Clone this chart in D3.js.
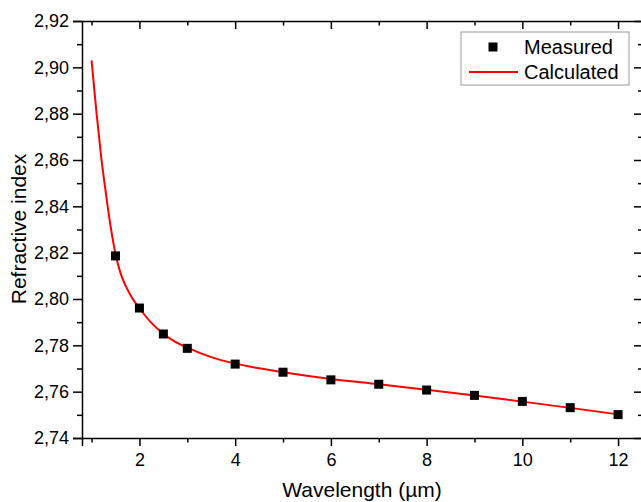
<!DOCTYPE html>
<meta charset="utf-8">
<style>
body { margin: 0; background: #fff; }
svg { font-family: "Liberation Sans", Arial, sans-serif; }
.axis path, .axis line { stroke: #000; stroke-width: 1.5; }
.axis text { font-size: 18px; fill: #000; font-family: "Liberation Sans", Arial, sans-serif; }
.title { font-size: 20px; fill: #000; }
</style>
<svg width="641" height="502"></svg>
<script src="https://d3js.org/d3.v7.min.js"></script>
<script>
// measured points
var measWl = [1.5, 2, 2.5, 3, 4, 5, 6, 7, 8, 9, 10, 11, 12];
var measN = [2.8186, 2.7961, 2.7849, 2.7787, 2.7719, 2.7684, 2.7651, 2.7632, 2.7607, 2.7584, 2.7558, 2.7531, 2.7501];
// calculated curve
var calcWl = [1.0, 1.1, 1.2, 1.3, 1.4, 1.5, 1.6, 1.7, 1.8, 1.9, 2.0, 2.25, 2.5, 2.75, 3.0, 3.5, 4.0, 4.5, 5, 6, 7, 8, 9, 10, 11, 12];
var calcN = [2.903, 2.881, 2.8615, 2.8455, 2.831, 2.8195, 2.8115, 2.8062, 2.8022, 2.7988, 2.796, 2.7897, 2.785, 2.7815, 2.779, 2.7749, 2.7721, 2.7701, 2.7684, 2.7655, 2.7632, 2.7608, 2.7583, 2.7557, 2.753, 2.7502];
// ticks
var xMajor = [2, 4, 6, 8, 10, 12];
var xMinor = [1, 3, 5, 7, 9, 11];
var yMajor = [2.74, 2.76, 2.78, 2.80, 2.82, 2.84, 2.86, 2.88, 2.90, 2.92];
var yMinor = [2.75, 2.77, 2.79, 2.81, 2.83, 2.85, 2.87, 2.89, 2.91];

var svg = d3.select('svg');
var m = { left: 82, right: 642, top: 21, bottom: 438 };

var x = d3.scaleLinear().domain([0.8, 12.5]).range([m.left, m.right]);
var y = d3.scaleLinear().domain([2.74, 2.92]).range([m.bottom, m.top]);
var fmt = function (d) { return d3.format('.2f')(d).replace('.', ','); };

// bottom axis
svg.append('g').attr('class', 'axis')
  .attr('transform', `translate(0, ${m.bottom})`)
  .call(d3.axisBottom(x).tickValues(xMajor).tickSize(8).tickPadding(7).tickFormat(d3.format('d')));
svg.append('g').attr('class', 'axis')
  .attr('transform', `translate(0, ${m.bottom})`)
  .call(d3.axisBottom(x).tickValues(xMinor).tickSize(4.5).tickFormat(''))
  .select('.domain').remove();

// top axis, ticks inside
svg.append('g').attr('class', 'axis')
  .attr('transform', `translate(0, ${m.top})`)
  .call(d3.axisTop(x).tickValues(xMajor).tickSize(-8).tickSizeOuter(0).tickFormat(''));
svg.append('g').attr('class', 'axis')
  .attr('transform', `translate(0, ${m.top})`)
  .call(d3.axisTop(x).tickValues(xMinor).tickSize(-4.5).tickFormat(''))
  .select('.domain').remove();

// left axis
svg.append('g').attr('class', 'axis')
  .attr('transform', `translate(${m.left}, 0)`)
  .call(d3.axisLeft(y).tickValues(yMajor).tickSize(9).tickPadding(4).tickFormat(fmt));
svg.append('g').attr('class', 'axis')
  .attr('transform', `translate(${m.left}, 0)`)
  .call(d3.axisLeft(y).tickValues(yMinor).tickSize(5).tickFormat(''))
  .select('.domain').remove();

// right axis, ticks inside
svg.append('g').attr('class', 'axis')
  .attr('transform', `translate(${m.right}, 0)`)
  .call(d3.axisRight(y).tickValues(yMajor).tickSize(-8).tickSizeOuter(0).tickFormat(''));
svg.append('g').attr('class', 'axis')
  .attr('transform', `translate(${m.right}, 0)`)
  .call(d3.axisRight(y).tickValues(yMinor).tickSize(-4).tickFormat(''))
  .select('.domain').remove();

// calculated line
var line = d3.line()
  .x(function (d, i) { return x(calcWl[i]); })
  .y(function (d) { return y(d); })
  .curve(d3.curveMonotoneX);
svg.append('path')
  .datum(calcN)
  .attr('d', line)
  .attr('fill', 'none')
  .attr('stroke', '#ff0000')
  .attr('stroke-width', 2);

// measured squares
var sq = 9;
svg.selectAll('.pt')
  .data(measN)
  .enter()
  .append('rect')
  .attr('class', 'pt')
  .attr('x', function (d, i) { return x(measWl[i]) - sq / 2; })
  .attr('y', function (d) { return y(d) - sq / 2; })
  .attr('width', sq)
  .attr('height', sq)
  .attr('fill', '#000');

// axis titles
svg.append('text').attr('class', 'title')
  .attr('x', (m.left + m.right) / 2).attr('y', 497)
  .attr('text-anchor', 'middle')
  .style('font-size', '21px')
  .text('Wavelength (µm)');
svg.append('text').attr('class', 'title')
  .attr('transform', 'translate(26, 229) rotate(-90)')
  .attr('text-anchor', 'middle')
  .style('font-size', '21px')
  .text('Refractive index');

// legend
var lg = svg.append('g');
lg.append('rect')
  .attr('x', 461).attr('y', 32).attr('width', 168).attr('height', 53)
  .attr('fill', '#fff').attr('stroke', '#999').attr('stroke-width', 1);
lg.append('rect')
  .attr('x', 493 - sq / 2).attr('y', 47 - sq / 2).attr('width', sq).attr('height', sq)
  .attr('fill', '#000');
lg.append('line')
  .attr('x1', 469).attr('x2', 518).attr('y1', 72).attr('y2', 72)
  .attr('stroke', '#ff0000').attr('stroke-width', 2);
lg.append('text').attr('class', 'title')
  .attr('x', 524).attr('y', 54).text('Measured');
lg.append('text').attr('class', 'title')
  .attr('x', 524).attr('y', 79).text('Calculated');
</script>
